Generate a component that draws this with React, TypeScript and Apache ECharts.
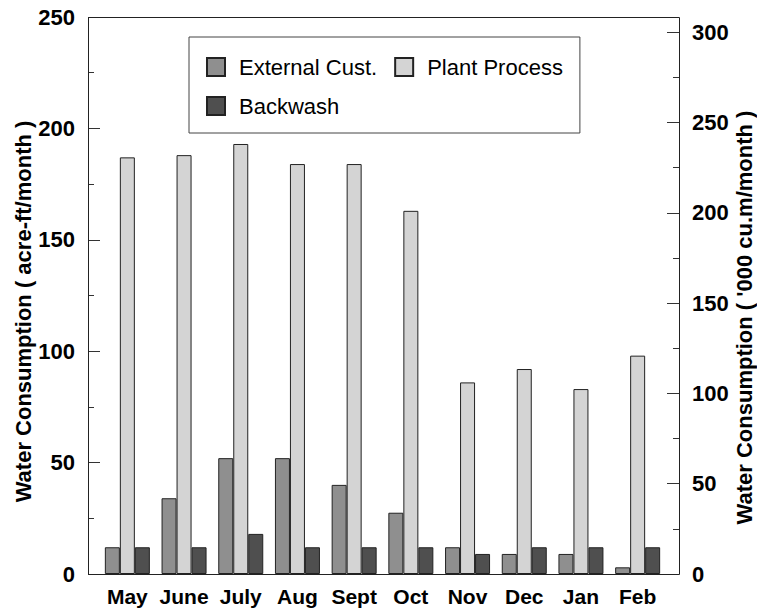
import React, { useEffect, useRef } from "react";
import * as echarts from "echarts";

const months = ["May", "June", "July", "Aug", "Sept", "Oct", "Nov", "Dec", "Jan", "Feb"];
const externalCust = [12, 34, 52, 52, 40, 27.5, 12, 9, 9, 3];
const plantProcess = [187, 188, 193, 184, 184, 163, 86, 92, 83, 98];
const backwash = [12, 12, 18, 12, 12, 12, 9, 12, 12, 12];
const leftMax = 250;
const rightMax = 308.375; // 250 acre-ft = 308.375 thousand m3
const leftTitle = "Water Consumption ( acre-ft/month )";
const rightTitle = "Water Consumption ( '000 cu.m/month )";

const FONT = "Liberation Sans, Arial, sans-serif";

export default function App() {
  const ref = useRef<HTMLDivElement>(null);
  useEffect(() => {
    if (!ref.current) return;
    const chart = echarts.init(ref.current, null, { renderer: "svg" });
    const barStyle = (c: string) => ({ color: c, borderColor: "#222", borderWidth: 1 });
    const labelStyle = { fontFamily: FONT, fontSize: 22, fontWeight: "bold", color: "#000" };
    const fmt = (v: number) => (v % 50 === 0 && v <= 300 ? String(v) : "");
    chart.setOption({
      animation: false,
      backgroundColor: "#fff",
      grid: { left: 99, right: 91, top: 17, bottom: 38, containLabel: false },
      legend: {
        left: 189,
        top: 37,
        width: 375,
        orient: "horizontal",
        backgroundColor: "#fff",
        borderColor: "#444",
        borderWidth: 1,
        padding: [19, 17, 16, 17],
        itemGap: 17,
        itemWidth: 18,
        itemHeight: 18,
        icon: "rect",
        textStyle: { fontFamily: FONT, fontSize: 22, color: "#000", lineHeight: 19, padding: [0, 0, 0, 9] },
        data: ["External Cust.", "Plant Process", "Backwash"],
      },
      xAxis: {
        type: "category",
        data: months,
        axisLine: { show: false },
        axisTick: { show: false },
        axisLabel: { fontFamily: FONT, fontSize: 21, fontWeight: "bold", color: "#000", margin: 12, interval: 0 },
      },
      yAxis: [
        {
          type: "value",
          min: 0,
          max: leftMax,
          interval: 50,
          offset: 11,
          position: "left",
          axisLine: { show: false },
          axisTick: { show: true, inside: true, length: 12, lineStyle: { color: "#333" } },
          minorTick: { show: true, splitNumber: 2, length: 6, lineStyle: { color: "#333" } },
          splitLine: { show: false },
          minorSplitLine: { show: false },
          axisLabel: { ...labelStyle, margin: 13, formatter: fmt },
        },
        {
          type: "value",
          min: 0,
          max: rightMax,
          interval: 25,
          offset: 13,
          position: "right",
          axisLine: { show: false },
          axisTick: { show: true, inside: true, length: 6, lineStyle: { color: "#333" } },
          splitLine: { show: false },
          axisLabel: { ...labelStyle, margin: 13, formatter: fmt },
        },
        {
          type: "value",
          min: 0,
          max: rightMax,
          interval: 50,
          offset: 13,
          position: "right",
          axisLine: { show: false },
          axisTick: { show: true, inside: true, length: 12, lineStyle: { color: "#333" } },
          splitLine: { show: false },
          axisLabel: { show: false },
        },
      ],
      graphic: [
        {
          type: "rect",
          shape: { x: 88.5, y: 17.5, width: 591, height: 557 },
          style: { fill: "none", stroke: "#222", lineWidth: 1 },
          z: 10,
          silent: true,
        },
        {
          type: "text",
          x: 23,
          y: 311.5,
          rotation: Math.PI / 2,
          style: { text: leftTitle, fontFamily: FONT, fontSize: 22, fontWeight: "bold", fill: "#000", align: "center", verticalAlign: "middle" },
        },
        {
          type: "text",
          x: 744,
          y: 317.5,
          rotation: Math.PI / 2,
          style: { text: rightTitle, fontFamily: FONT, fontSize: 22, fontWeight: "bold", fill: "#000", align: "center", verticalAlign: "middle" },
        },
      ],
      series: [
        { name: "External Cust.", type: "bar", data: externalCust, barWidth: 15, barGap: "0%", itemStyle: barStyle("#8f8f8f") },
        { name: "Plant Process", type: "bar", data: plantProcess, barWidth: 15, barGap: "0%", itemStyle: barStyle("#d4d4d4") },
        { name: "Backwash", type: "bar", data: backwash, barWidth: 15, barGap: "0%", itemStyle: barStyle("#4f4f4f") },
      ],
    });
    return () => chart.dispose();
  }, []);
  return <div ref={ref} style={{ position: "fixed", left: 0, top: 0, width: 757, height: 612 }} />;
}
